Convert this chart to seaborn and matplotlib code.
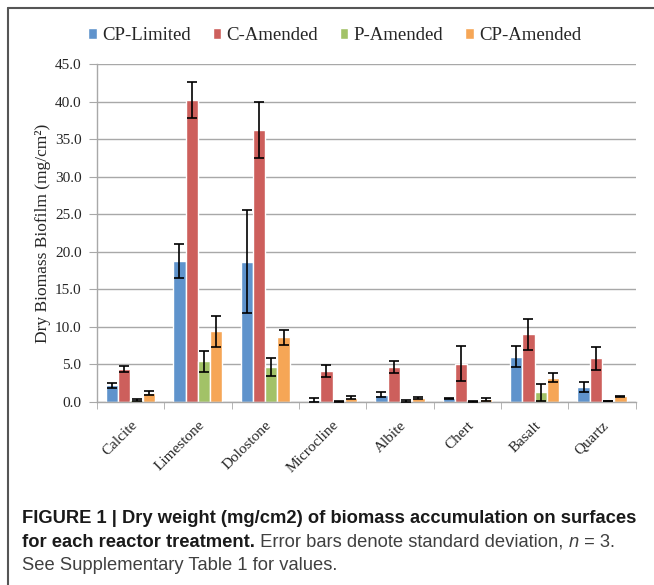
import pandas as pd
import seaborn as sns
import matplotlib.pyplot as plt

minerals = ['Calcite', 'Limestone', 'Dolostone', 'Microcline', 'Albite', 'Chert', 'Basalt', 'Quartz']
treatments = ['CP-Limited', 'C-Amended', 'P-Amended', 'CP-Amended']

cp_limited = [2.2, 18.8, 18.7, 0.3, 1.0, 0.5, 6.0, 2.0]
cp_limited_sd = [0.35, 2.3, 6.8, 0.3, 0.3, 0.1, 1.4, 0.7]
c_amended = [4.4, 40.2, 36.2, 4.1, 4.7, 5.1, 9.0, 5.8]
c_amended_sd = [0.45, 2.45, 3.7, 0.8, 0.8, 2.3, 2.1, 1.5]
p_amended = [0.3, 5.4, 4.7, 0.05, 0.1, 0.1, 1.3, 0.15]
p_amended_sd = [0.15, 1.35, 1.2, 0.05, 0.15, 0.05, 1.15, 0.05]
cp_amended = [1.2, 9.4, 8.6, 0.6, 0.55, 0.35, 3.2, 0.75]
cp_amended_sd = [0.3, 2.1, 1.0, 0.25, 0.1, 0.15, 0.6, 0.1]

colors = ['#5f93cc', '#cd5f5c', '#a2c267', '#f6a656']

means = [cp_limited, c_amended, p_amended, cp_amended]
sds = [cp_limited_sd, c_amended_sd, p_amended_sd, cp_amended_sd]

rows = []
for t, m, s in zip(treatments, means, sds):
    for mineral, v, e in zip(minerals, m, s):
        rows.append([mineral, t, v, e])
df = pd.DataFrame(rows, columns=['mineral', 'treatment', 'biomass', 'sd'])

sns.set_style("white")
plt.rcParams['font.family'] = ['Liberation Serif', 'DejaVu Serif']

fig = plt.figure(figsize=(6.54, 5.85), dpi=100)
ax = fig.add_axes([0.148, 0.3128, 0.824, 0.5778])

sns.barplot(data=df, x='mineral', y='biomass', hue='treatment', order=minerals,
            hue_order=treatments, palette=colors, errorbar=None, width=0.73,
            saturation=1, ax=ax, legend=True)

# error bars at the centre of each seaborn bar
for cont, t in zip(ax.containers, treatments):
    sub = df[df['treatment'] == t].set_index('mineral').loc[minerals]
    xs = [b.get_x() + b.get_width() / 2 for b in cont]
    ax.errorbar(xs, sub['biomass'], yerr=sub['sd'], fmt='none', ecolor='black',
                elinewidth=1.2, capsize=3.5, capthick=1.2, zorder=5)

ax.set_ylim(0, 45)
ax.set_xlim(-0.5, len(minerals) - 0.5)
ax.set_yticks(range(0, 46, 5))
ax.set_yticklabels([f'{v:.1f}' for v in range(0, 46, 5)], fontsize=11)
ax.yaxis.grid(True, color='#a8a8a8', linewidth=1)
ax.set_axisbelow(True)
ax.set_xlabel('')
ax.set_ylabel('Dry Biomass Biofilm (mg/cm²)', fontsize=12.5, labelpad=3)

for side in ['top', 'right']:
    ax.spines[side].set_visible(False)
for side in ['left', 'bottom']:
    ax.spines[side].set_color('#a8a8a8')
    ax.spines[side].set_linewidth(1)

ax.tick_params(axis='y', direction='out', length=6, color='#a8a8a8', left=True, pad=5)
ax.set_xticks(range(len(minerals)))
ax.set_xticklabels(minerals, rotation=45, ha='right', rotation_mode='anchor', fontsize=11)
ax.tick_params(axis='x', which='major', length=0, pad=12)
ax.set_xticks([i - 0.5 for i in range(len(minerals) + 1)], minor=True)
ax.tick_params(axis='x', which='minor', direction='out', length=5, color='#a8a8a8', bottom=True)

handles, labels = ax.get_legend_handles_labels()
ax.get_legend().remove()
fig.legend(handles, labels, loc='center', bbox_to_anchor=(0.512, 0.939), ncol=4,
           frameon=False, fontsize=13.5, handlelength=0.45, handleheight=0.45,
           handletextpad=0.3, columnspacing=1.15)

# caption
cap_font = ['Liberation Sans', 'DejaVu Sans']
cap_size = 13.2
fig.text(0.034, 0.106, 'FIGURE 1 | Dry weight (mg/cm2) of biomass accumulation on surfaces',
         family=cap_font, fontsize=cap_size, fontweight='bold', color='#1a1a1a', va='baseline')
b2 = fig.text(0.034, 0.065, 'for each reactor treatment.', family=cap_font, fontsize=cap_size,
              fontweight='bold', color='#1a1a1a', va='baseline')
r1 = ax.annotate(' Error bars denote standard deviation, ', xy=(1, 0), xycoords=b2,
                 family=cap_font, fontsize=cap_size, color='#404040', va='bottom',
                 annotation_clip=False)
r2 = ax.annotate('n', xy=(1, 0), xycoords=r1, family=cap_font, fontsize=cap_size,
                 style='italic', color='#404040', va='bottom', annotation_clip=False)
ax.annotate(' = 3.', xy=(1, 0), xycoords=r2, family=cap_font, fontsize=cap_size,
            color='#404040', va='bottom', annotation_clip=False)
fig.text(0.034, 0.0256, 'See Supplementary Table 1 for values.', family=cap_font,
         fontsize=cap_size, color='#404040', va='baseline')

# outer frame (top and left edges)
fig.add_artist(plt.Line2D([0.012, 0.012], [0.0, 0.986], color='#555555', linewidth=1.5))
fig.add_artist(plt.Line2D([0.012, 1.0], [0.986, 0.986], color='#555555', linewidth=1.5))

fig.savefig('out.png', dpi=100)
